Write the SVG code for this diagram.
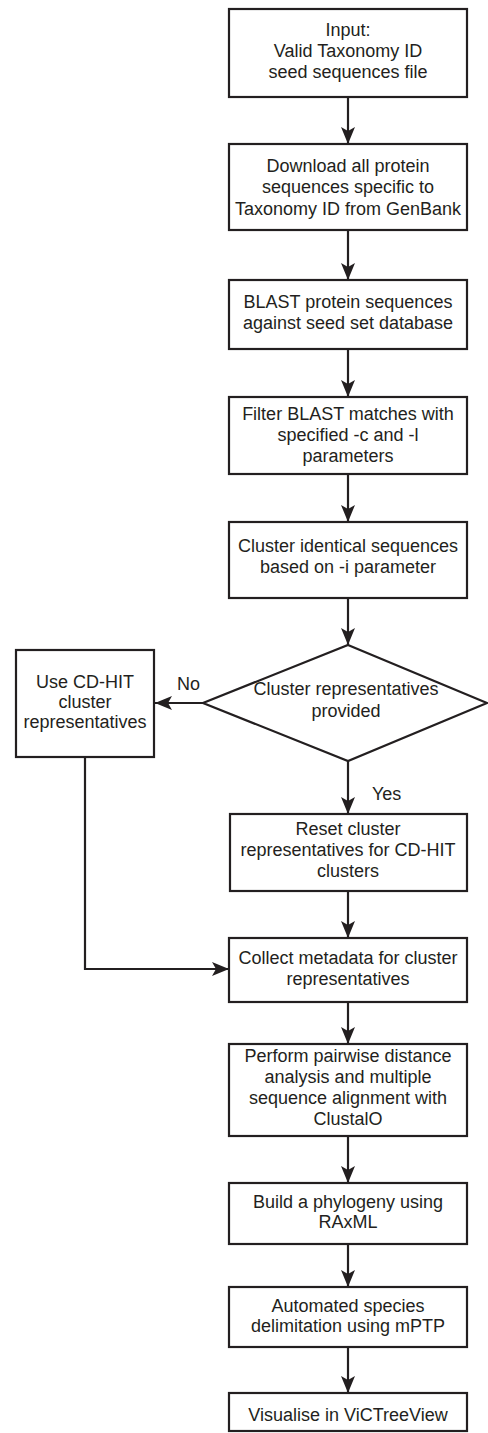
<svg xmlns="http://www.w3.org/2000/svg" width="488" height="1433" viewBox="0 0 488 1433">
<style>
.box{fill:#fff;stroke:#231f20;stroke-width:2.2}
.t{font-family:"Liberation Sans",Arial,sans-serif;font-size:18px;fill:#231f20;text-anchor:middle}
.lbl{font-family:"Liberation Sans",Arial,sans-serif;font-size:18px;fill:#231f20}
.c{fill:none;stroke:#231f20;stroke-width:2.2}
</style>
<defs>
<marker id="ah" viewBox="0 0 17 14" refX="17" refY="7" markerWidth="17" markerHeight="14" markerUnits="userSpaceOnUse" orient="auto">
<path d="M0,0 L17,7 L0,14 L4,7 z" fill="#231f20"/>
</marker>
</defs>
<rect width="488" height="1433" fill="#fff"/>
<g id="connectors">
<line class="c" x1="348" y1="97" x2="348" y2="144" marker-end="url(#ah)"/>
<line class="c" x1="348" y1="230" x2="348" y2="280" marker-end="url(#ah)"/>
<line class="c" x1="348" y1="349" x2="348" y2="397" marker-end="url(#ah)"/>
<line class="c" x1="348" y1="474" x2="348" y2="522" marker-end="url(#ah)"/>
<line class="c" x1="348" y1="598" x2="348" y2="645" marker-end="url(#ah)"/>
<line class="c" x1="203" y1="703" x2="155" y2="703" marker-end="url(#ah)"/>
<line class="c" x1="348" y1="761" x2="348" y2="814" marker-end="url(#ah)"/>
<line class="c" x1="348" y1="891" x2="348" y2="938" marker-end="url(#ah)"/>
<path class="c" d="M85,757 V969 H229" marker-end="url(#ah)"/>
<line class="c" x1="348" y1="1002" x2="348" y2="1044" marker-end="url(#ah)"/>
<line class="c" x1="348" y1="1136" x2="348" y2="1183" marker-end="url(#ah)"/>
<line class="c" x1="348" y1="1244" x2="348" y2="1287" marker-end="url(#ah)"/>
<line class="c" x1="348" y1="1347" x2="348" y2="1393" marker-end="url(#ah)"/>
<text class="lbl" x="177" y="690">No</text>
<text class="lbl" x="372" y="800">Yes</text>
</g>
<g id="n1"><rect class="box" x="229" y="9" width="238" height="88"/>
<text class="t" x="348" y="36">Input:</text><text class="t" x="348" y="57">Valid Taxonomy ID</text><text class="t" x="348" y="78">seed sequences file</text></g>
<g id="n2"><rect class="box" x="229" y="144" width="238" height="86"/>
<text class="t" x="348" y="172">Download all protein</text><text class="t" x="348" y="193">sequences specific to</text><text class="t" x="348" y="215">Taxonomy ID from GenBank</text></g>
<g id="n3"><rect class="box" x="229" y="280" width="238" height="69"/>
<text class="t" x="348" y="308">BLAST protein sequences</text><text class="t" x="348" y="329">against seed set database</text></g>
<g id="n4"><rect class="box" x="229" y="397" width="238" height="77"/>
<text class="t" x="348" y="420">Filter BLAST matches with</text><text class="t" x="348" y="441">specified -c and -l</text><text class="t" x="348" y="462">parameters</text></g>
<g id="n5"><rect class="box" x="229" y="522" width="238" height="76"/>
<text class="t" x="348" y="552">Cluster identical sequences</text><text class="t" x="348" y="573">based on -i parameter</text></g>
<g id="n6"><polygon class="box" points="348,645 487,703 348,761 203,703"/>
<text class="t" x="346" y="695">Cluster representatives</text><text class="t" x="346" y="717">provided</text></g>
<g id="n7"><rect class="box" x="16" y="650" width="138" height="107"/>
<text class="t" x="85" y="688">Use CD-HIT</text><text class="t" x="85" y="708">cluster</text><text class="t" x="85" y="728">representatives</text></g>
<g id="n8"><rect class="box" x="230" y="814" width="237" height="77"/>
<text class="t" x="348" y="835">Reset cluster</text><text class="t" x="348" y="856">representatives for CD-HIT</text><text class="t" x="348" y="877">clusters</text></g>
<g id="n9"><rect class="box" x="229" y="938" width="238" height="64"/>
<text class="t" x="348" y="964">Collect metadata for cluster</text><text class="t" x="348" y="985">representatives</text></g>
<g id="n10"><rect class="box" x="229" y="1044" width="238" height="92"/>
<text class="t" x="348" y="1062">Perform pairwise distance</text><text class="t" x="348" y="1083">analysis and multiple</text><text class="t" x="348" y="1104">sequence alignment with</text><text class="t" x="348" y="1125">ClustalO</text></g>
<g id="n11"><rect class="box" x="229" y="1183" width="238" height="61"/>
<text class="t" x="348" y="1208">Build a phylogeny using</text><text class="t" x="348" y="1228">RAxML</text></g>
<g id="n12"><rect class="box" x="229" y="1287" width="238" height="60"/>
<text class="t" x="348" y="1312">Automated species</text><text class="t" x="348" y="1332">delimitation using mPTP</text></g>
<g id="n13"><rect class="box" x="229" y="1393" width="238" height="38"/>
<text class="t" x="348" y="1421">Visualise in ViCTreeView</text></g>
</svg>
